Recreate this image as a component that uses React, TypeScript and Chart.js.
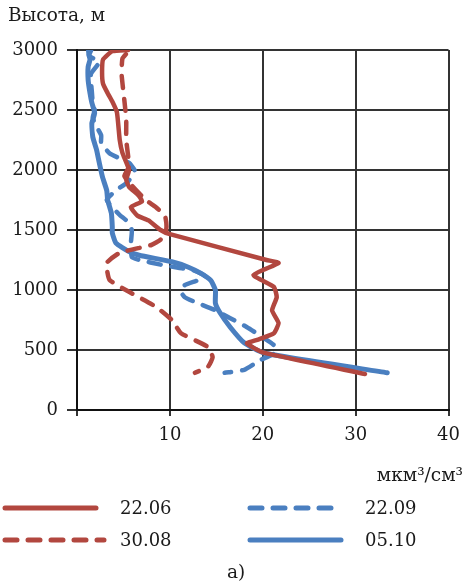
import { useEffect, useRef } from "react";
import { Chart, registerables } from "chart.js";

Chart.register(...registerables);

const FONT = "'DejaVu Serif', serif";
const RED = "#B2473F";
const BLUE = "#4A7FC0";

const yTickValues = [0, 500, 1000, 1500, 2000, 2500, 3000];
const xTickValues = [0, 10, 20, 30, 40];
const yTitle = "Высота, м";
const xUnit = "мкм³/см³";
const caption = "а)";
const seriesNames = ["22.06", "30.08", "22.09", "05.10"];

// 22.06 (red solid)
const s2206Y = [3000, 2990, 2920, 2810, 2720, 2640, 2570, 2480, 2250, 2140, 2000, 1920, 1860, 1790, 1740, 1690, 1620, 1580, 1500, 1465, 1250, 1225, 1125, 1025, 940, 830, 725, 640, 585, 555, 480, 300];
const s2206X = [5.5, 3.8, 2.8, 2.7, 2.8, 3.3, 3.8, 4.3, 4.6, 4.9, 5.6, 5.3, 5.6, 6.6, 7.0, 5.8, 6.5, 7.7, 9.0, 10.0, 20.4, 21.7, 19.0, 21.2, 21.5, 21.0, 21.7, 21.2, 19.4, 18.3, 20.0, 31.0];

// 30.08 (red dashed)
const s3008Y = [3010, 3000, 2930, 2800, 2580, 2420, 2250, 2030, 1950, 1880, 1750, 1690, 1610, 1500, 1420, 1375, 1310, 1225, 1085, 985, 860, 750, 640, 525, 440, 360, 310];
const s3008X = [3.7, 5.6, 4.9, 4.8, 5.1, 5.3, 5.3, 5.6, 5.1, 5.8, 7.4, 8.5, 9.5, 9.6, 9.0, 8.0, 4.6, 3.2, 3.5, 5.6, 8.5, 10.2, 11.2, 14.1, 14.6, 14.1, 12.7];

// 22.09 (blue dashed)
const s2209Y = [3010, 2950, 2900, 2800, 2650, 2560, 2500, 2440, 2390, 2290, 2225, 2140, 2100, 2060, 2000, 1960, 1890, 1830, 1750, 1625, 1580, 1500, 1390, 1275, 1250, 1210, 1185, 1165, 1115, 1080, 1040, 985, 940, 900, 835, 765, 690, 600, 540, 475, 415, 335, 310];
const s2209X = [1.2, 1.3, 2.4, 1.5, 1.6, 1.7, 1.9, 1.7, 1.9, 2.6, 2.6, 3.5, 4.5, 5.6, 6.2, 6.1, 5.3, 4.2, 3.2, 4.6, 5.3, 5.9, 5.8, 5.9, 6.7, 9.1, 10.9, 12.5, 13.8, 13.0, 11.6, 11.2, 11.6, 12.7, 14.8, 16.5, 18.3, 20.1, 21.2, 21.3, 19.7, 18.0, 15.9];

// 05.10 (blue solid)
const s0510Y = [3000, 2960, 2920, 2860, 2750, 2640, 2560, 2475, 2390, 2275, 2170, 2060, 1940, 1830, 1750, 1640, 1525, 1475, 1390, 1320, 1290, 1235, 1190, 1140, 1080, 1000, 890, 810, 690, 560, 475, 310];
const s0510X = [1.5, 1.3, 1.4, 1.2, 1.2, 1.4, 1.6, 1.9, 1.6, 1.7, 2.1, 2.4, 2.75, 3.2, 3.3, 3.7, 3.8, 3.8, 4.2, 5.6, 6.7, 10.2, 12.0, 13.3, 14.4, 14.9, 14.9, 15.4, 16.5, 18.0, 20.1, 33.4];

const zip = (xs: number[], ys: number[]) => xs.map((x, i) => ({ x, y: ys[i] }));

const DASH = [12, 11];

const seriesStyles = [
  { color: RED, dash: [] as number[], width: 4.5 },
  { color: RED, dash: DASH, width: 4.5 },
  { color: BLUE, dash: DASH, width: 4.5 },
  { color: BLUE, dash: [] as number[], width: 5 },
];

const overlayPlugin = {
  id: "overlay",
  afterDraw(chart: any) {
    const ctx = chart.ctx as CanvasRenderingContext2D;
    ctx.save();
    ctx.fillStyle = "#1a1a1a";
    ctx.textBaseline = "middle";
    ctx.font = `18.5px ${FONT}`;
    ctx.textAlign = "left";
    ctx.fillText(yTitle, 8, 16);
    ctx.textAlign = "right";
    ctx.fillText(xUnit, 463, 476);
    ctx.textAlign = "center";
    ctx.fillText(caption, 236, 573);

    const items = [
      { i: 0, x0: 5, x1: 96, y: 508, tx: 120 },
      { i: 1, x0: 5, x1: 104, y: 540, tx: 120 },
      { i: 2, x0: 250, x1: 336, y: 508, tx: 365 },
      { i: 3, x0: 250, x1: 341, y: 540, tx: 365 },
    ];
    ctx.font = `18px ${FONT}`;
    ctx.textAlign = "left";
    for (const it of items) {
      const st = seriesStyles[it.i];
      ctx.save();
      ctx.strokeStyle = st.color;
      ctx.lineWidth = 5;
      ctx.lineCap = "round";
      ctx.setLineDash(st.dash);
      ctx.beginPath();
      ctx.moveTo(it.x0, it.y);
      ctx.lineTo(it.x1, it.y);
      ctx.stroke();
      ctx.restore();
      ctx.fillText(seriesNames[it.i], it.tx, it.y + 1);
    }
    ctx.restore();
  },
};

export default function App() {
  const ref = useRef<HTMLCanvasElement | null>(null);
  useEffect(() => {
    if (!ref.current) return;
    const sets = [
      zip(s2206X, s2206Y),
      zip(s3008X, s3008Y),
      zip(s2209X, s2209Y),
      zip(s0510X, s0510Y),
    ];
    const order = [1, 0, 2, 3];
    const chart = new Chart(ref.current, {
      type: "scatter",
      data: {
        datasets: sets.map((d, i) => ({
          label: seriesNames[i],
          data: d,
          showLine: true,
          borderColor: seriesStyles[i].color,
          backgroundColor: seriesStyles[i].color,
          borderWidth: seriesStyles[i].width,
          borderDash: seriesStyles[i].dash,
          borderCapStyle: "round",
          borderJoinStyle: "round",
          pointRadius: 0,
          pointHoverRadius: 0,
          tension: 0.15,
          order: order[i],
        })) as any,
      },
      options: {
        animation: false,
        responsive: false,
        devicePixelRatio: 1,
        layout: { padding: { left: 0, right: 14, top: 50, bottom: 137 } },
        plugins: { legend: { display: false }, tooltip: { enabled: false } },
        scales: {
          x: {
            type: "linear",
            min: 0,
            max: 40,
            afterBuildTicks: (s: any) => {
              s.ticks = xTickValues.map((v) => ({ value: v }));
            },
            afterFit: (s: any) => {
              s.height = 40;
            },
            ticks: {
              color: "#1a1a1a",
              font: { family: FONT, size: 18 },
              padding: 9,
              maxRotation: 0,
              callback: (v: any) => (v === 0 ? "" : String(v)),
            },
            grid: { color: "#333", lineWidth: 2, tickLength: 6 },
            border: { display: true, color: "#111", width: 2 },
          },
          y: {
            type: "linear",
            min: 0,
            max: 3000,
            afterBuildTicks: (s: any) => {
              s.ticks = yTickValues.map((v) => ({ value: v }));
            },
            afterFit: (s: any) => {
              s.width = 77;
            },
            ticks: {
              color: "#1a1a1a",
              font: { family: FONT, size: 18 },
              padding: 9,
              callback: (v: any) => String(v),
            },
            grid: { color: "#333", lineWidth: 2, tickLength: 10 },
            border: { display: true, color: "#111", width: 2 },
          },
        },
      },
      plugins: [overlayPlugin],
    });
    return () => chart.destroy();
  }, []);
  return (
    <div style={{ position: "fixed", left: 0, top: 0, width: 469, height: 587, background: "#fff" }}>
      <canvas ref={ref} width={469} height={587} style={{ width: 469, height: 587, display: "block" }} />
    </div>
  );
}
